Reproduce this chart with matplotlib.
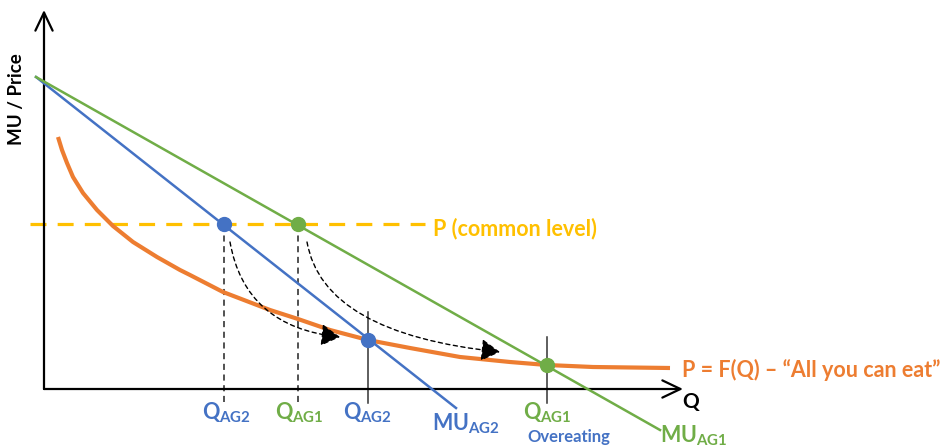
import matplotlib
matplotlib.use("Agg")
import matplotlib.pyplot as plt
from matplotlib.patches import FancyArrowPatch

plt.rcParams["font.family"] = ["Lato", "DejaVu Sans"]
plt.rcParams["font.weight"] = "bold"
plt.rcParams["mathtext.fontset"] = "custom"
plt.rcParams["mathtext.rm"] = "Lato:bold"
plt.rcParams["mathtext.it"] = "Lato:bold"
plt.rcParams["mathtext.bf"] = "Lato:bold"

BLUE = "#4472C4"
GREEN = "#70AD47"
ORANGE = "#ED7D31"
YELLOW = "#FFC000"

# data (units ~ pixels from the axes origin)
mu_ag1_x = [-8, 616]
mu_ag1_y = [312, -41]
mu_ag2_x = [-8, 412]
mu_ag2_y = [312, -19]
p_level = 165
p_line_x = [-14, 381]
ayce_x = [14, 18, 23, 29, 39, 53, 69, 89, 113, 136, 146, 179, 226, 254, 286, 324,
          366, 416, 466, 503, 549, 626]
ayce_y = [252, 239, 226, 212, 196, 179, 163, 147, 132, 119, 114, 97, 79, 70, 59, 49,
          41, 32, 27, 24, 22, 21]
q_common = [180, 254]            # Q_AG2, Q_AG1 at common price
q_ayce = [324, 503]              # Q_AG2, Q_AG1 under all-you-can-eat
p_ayce = [49, 24]
axis_top = 379
axis_right = 639

fig = plt.figure(figsize=(9.49, 4.48), dpi=100)
ax = fig.add_axes([0, 0, 1, 1])
ax.set_xlim(-44, 905)
ax.set_ylim(-59, 389)
ax.axis("off")

# axes with open arrow heads
for end in [(0, axis_top), (axis_right, 0)]:
    ax.annotate("", xy=end, xytext=(0, 0),
                arrowprops=dict(arrowstyle="->,head_length=0.65,head_width=0.31",
                                lw=1.6, color="black", shrinkA=0, shrinkB=0,
                                mutation_scale=20))

# guide lines
for x in q_common:
    ax.plot([x, x], [-13, p_level + 7], color="#222222", lw=1.1, ls=(0, (4, 3)), zorder=2)
for x, y in zip(q_ayce, p_ayce):
    ax.plot([x, x], [-14, y + 28], color="#333333", lw=1.1, zorder=2)

ax.plot(p_line_x, [p_level, p_level], color=YELLOW, lw=2.3, ls=(0, (5, 3.5)), zorder=2)
ax.plot(ayce_x, ayce_y, color=ORANGE, lw=3.0, solid_capstyle="butt",
        solid_joinstyle="round", zorder=3)
ax.plot(mu_ag2_x, mu_ag2_y, color=BLUE, lw=1.8, zorder=4)
ax.plot(mu_ag1_x, mu_ag1_y, color=GREEN, lw=1.8, zorder=4)

ax.plot(q_common[0], p_level, "o", ms=10, color=BLUE, zorder=5)
ax.plot(q_common[1], p_level, "o", ms=10, color=GREEN, zorder=5)
ax.plot(q_ayce[0], p_ayce[0], "o", ms=10, color=BLUE, zorder=5)
ax.plot(q_ayce[1], p_ayce[1], "o", ms=10, color=GREEN, zorder=5)

# dashed movement arrows
for x0, x1, y1 in [(q_common[0] + 6, q_ayce[0] - 28, p_ayce[0] + 3),
                   (q_common[1] + 9, q_ayce[1] - 47, p_ayce[1] + 13)]:
    arr = FancyArrowPatch((x0, p_level - 18), (x1, y1),
                          connectionstyle="angle3,angleA=-80,angleB=-6",
                          arrowstyle="-|>,head_length=0.65,head_width=0.38",
                          mutation_scale=18, lw=1.0, ls=(0, (3, 2.5)),
                          color="black", shrinkA=0, shrinkB=0, zorder=3)
    ax.add_patch(arr)

# labels
ax.text(-27, 290, "MU / Price", rotation=90, ha="center", va="center", fontsize=13.5)
ax.text(647, -13, "Q", ha="center", va="center", fontsize=15)
ax.text(389, 160, "P (common level)", color=YELLOW, ha="left", va="center", fontsize=15.5)
ax.text(638, 19, "P = F(Q) \u2013 \u201cAll you can eat\u201d", color=ORANGE,
        ha="left", va="center", fontsize=15.5)

ax.text(182, -24, r"$Q_{AG2}$", color=BLUE, ha="center", va="center", fontsize=15.5)
ax.text(255, -24, r"$Q_{AG1}$", color=GREEN, ha="center", va="center", fontsize=15.5)
ax.text(323.5, -24, r"$Q_{AG2}$", color=BLUE, ha="center", va="center", fontsize=15.5)
ax.text(503.5, -24, r"$Q_{AG1}$", color=GREEN, ha="center", va="center", fontsize=15.5)
ax.text(422, -35, r"$MU_{AG2}$", color=BLUE, ha="center", va="center", fontsize=15.5)
ax.text(649.5, -47, r"$MU_{AG1}$", color=GREEN, ha="center", va="center", fontsize=15.5)
ax.text(483, -48, "Overeating", color=BLUE, ha="left", va="center", fontsize=12)

fig.savefig("out.png", dpi=100)
